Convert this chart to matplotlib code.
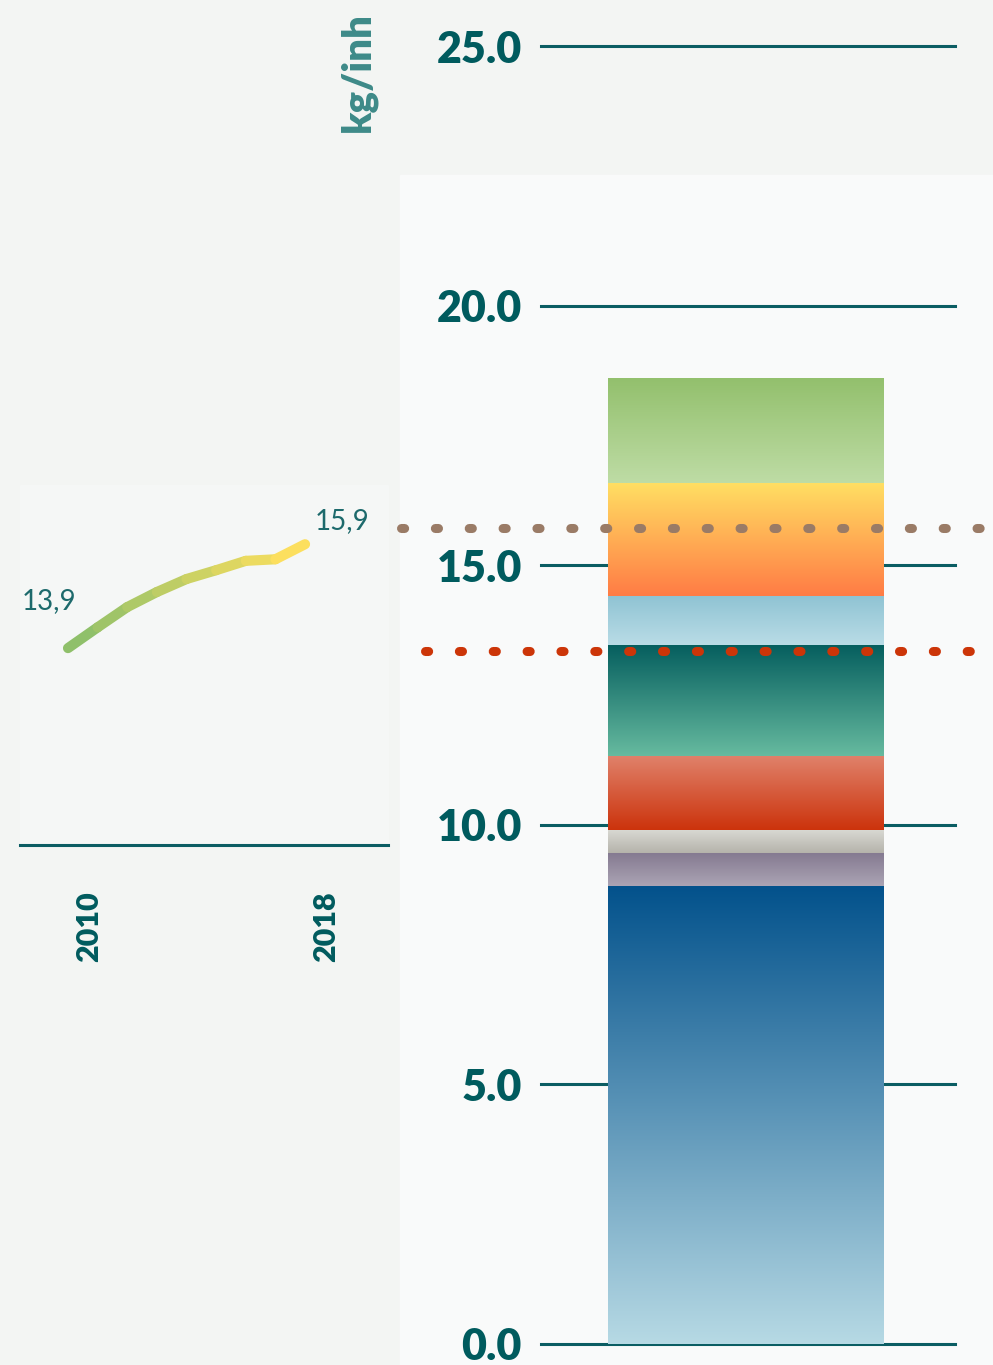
import numpy as np
import matplotlib
matplotlib.use("Agg")
import matplotlib.pyplot as plt
from matplotlib.collections import LineCollection
from matplotlib.colors import to_rgb
from matplotlib.patches import Rectangle
from matplotlib.transforms import ScaledTranslation

plt.rcParams["font.family"] = ["Lato", "DejaVu Sans"]

# stacked bar (bottom to top), kg/inh
segments = ["blue", "purple", "grey", "red", "teal", "lightblue", "orange", "green"]
seg_values = [8.83, 0.63, 0.44, 1.43, 2.13, 0.95, 2.18, 2.02]
seg_colors = [  # (top, bottom) of each gradient
    ("#03528c", "#b6d9e4"),
    ("#857a91", "#aba4b4"),
    ("#d8d8d2", "#b5b3ab"),
    ("#e0826b", "#cc330c"),
    ("#065f5f", "#66ba9f"),
    ("#8fc3d3", "#b9dce6"),
    ("#ffdf63", "#ff7c45"),
    ("#93c06d", "#bedca5"),
]
ref_brown = 15.72
ref_red = 13.34
yticks = [0, 5, 10, 15, 20, 25]

# trend 2010-2018
years = [2010, 2011, 2012, 2013, 2014, 2015, 2016, 2017, 2018]
trend = [13.9, 14.30, 14.69, 14.98, 15.23, 15.40, 15.58, 15.61, 15.9]

TEAL = "#005b5e"
DPI = 100
fig = plt.figure(figsize=(9.93, 13.65), dpi=DPI, facecolor="#f3f5f3")

# lighter panels behind the charts
fig.patches.append(Rectangle((400 / 993, 0), 593 / 993, 1 - 175 / 1365,
                             transform=fig.transFigure, color="#f9fafa", zorder=-10))
fig.patches.append(Rectangle((20 / 993, 1 - 845 / 1365), 368 / 993, 360 / 1365,
                             transform=fig.transFigure, color="#f5f7f6", zorder=-10))

# ---- right: stacked bar ----
ax = fig.add_axes([541 / 993, 21 / 1365, 414 / 993, 1298 / 1365])
ax.patch.set_alpha(0)
for s in ax.spines.values():
    s.set_visible(False)
xlim = (-0.594, 0.606)
bar_w = 0.8

for t in yticks:
    ax.axhline(t, color="#0b5d63", lw=2.2, zorder=1, clip_on=False)

bottom = 0
for v, (ctop, cbot) in zip(seg_values, seg_colors):
    a, b = np.array(to_rgb(ctop)), np.array(to_rgb(cbot))
    grad = np.linspace(0, 1, 100)[:, None, None]
    img = a * (1 - grad) + b * grad
    ax.imshow(img, extent=(-bar_w / 2, bar_w / 2, bottom, bottom + v),
              aspect="auto", origin="upper", zorder=2, interpolation="bilinear")
    bottom += v

dots = (0, (0.35, 3.4))
ax.plot([-1.0, 0.72], [ref_brown] * 2, color="#9a7b66", lw=6.5,
        ls=dots, dash_capstyle="round", clip_on=False, zorder=3)
ax.plot([-0.93, 0.72], [ref_red] * 2, color="#cc3508", lw=6.5,
        ls=dots, dash_capstyle="round", clip_on=False, zorder=3)

ax.set_xlim(*xlim)
ax.set_ylim(0, 25)
ax.set_xticks([])
ax.set_yticks(yticks)
ax.set_yticklabels([f"{t:.1f}" for t in yticks], fontsize=31, fontweight="heavy", color=TEAL)
ax.tick_params(axis="y", length=0, pad=13.7)

fig.text(358 / 993, 1 - 72 / 1365, "kg/inh", rotation=90, ha="center", va="center",
         fontsize=29, fontweight="heavy", color="#3d8a88")

# ---- left: trend line ----
ax2 = fig.add_axes([20 / 993, 1 - 845 / 1365, 368 / 993, 360 / 1365])
ax2.patch.set_alpha(0)
for k in ["top", "right", "left"]:
    ax2.spines[k].set_visible(False)
ax2.spines["bottom"].set_color("#0b5d63")
ax2.spines["bottom"].set_linewidth(2.2)
ax2.set_xlim(2008.38, 2020.8)
ax2.set_ylim(10.11, 17.04)

pts = np.column_stack([years, trend])
segs = np.stack([pts[:-1], pts[1:]], axis=1)
c0, c1 = np.array(to_rgb("#8fc06a")), np.array(to_rgb("#fcdf5e"))
fr = np.linspace(0, 1, len(segs))[:, None]
lc = LineCollection(segs, colors=c0 * (1 - fr) + c1 * fr, linewidths=7.3,
                    capstyle="round", joinstyle="round")
ax2.add_collection(lc)

ax2.annotate("13,9", (years[0], trend[0]), xytext=(-14, 34), textcoords="offset points",
             ha="center", va="center", fontsize=20, color="#1d6a6c")
ax2.annotate("15,9", (years[-1], trend[-1]), xytext=(27, 17), textcoords="offset points",
             ha="center", va="center", fontsize=20, color="#1d6a6c")

ax2.set_yticks([])
ax2.set_xticks([years[0], years[-1]])
ax2.set_xticklabels([str(years[0]), str(years[-1])], rotation=90, fontsize=22,
                    fontweight="heavy", color=TEAL)
ax2.tick_params(axis="x", length=0, pad=33.5)
for lbl in ax2.get_xticklabels():
    lbl.set_transform(lbl.get_transform() + ScaledTranslation(21 / DPI, 0, fig.dpi_scale_trans))

fig.savefig("out.png", dpi=DPI, facecolor=fig.get_facecolor())
